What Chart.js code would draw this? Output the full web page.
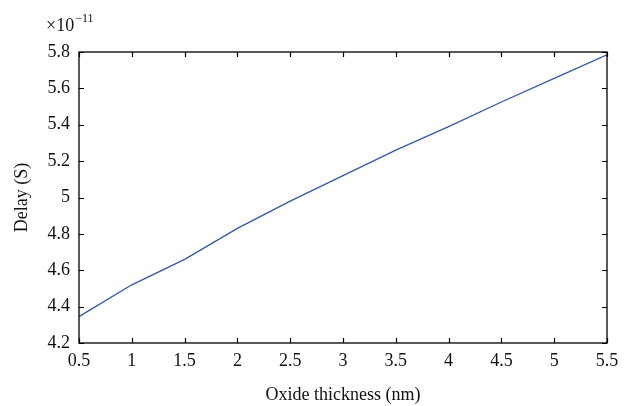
<!DOCTYPE html>
<html>
<head>
<meta charset="utf-8">
<script src="https://cdn.jsdelivr.net/npm/chart.js@4.4.1/dist/chart.umd.min.js"></script>
<style>
  html, body { margin: 0; padding: 0; background: #fff; }
  #wrap { width: 634px; height: 406px; }
</style>
</head>
<body>
<div id="wrap"><canvas id="chart" width="634" height="406"></canvas></div>
<script>
// oxide thickness (nm) and delay (x1e-11 s)
const thickness = [0.5, 1, 1.5, 2, 2.5, 3, 3.5, 4, 4.5, 5, 5.5];
const delay = [4.345, 4.52, 4.66, 4.83, 4.98, 5.12, 5.26, 5.39, 5.525, 5.655, 5.785];

const xTitle = 'Oxide thickness (nm)';
const yTitle = 'Delay (S)';

const FONT = '"Liberation Serif", "DejaVu Serif", serif';

const fmt = v => String(Number(v.toFixed(1)));

// box around plot + inward ticks like matlab
const boxPlugin = {
  id: 'box',
  afterDraw(chart) {
    const { ctx, chartArea: a, scales } = chart;
    ctx.save();
    ctx.strokeStyle = '#000';
    ctx.lineWidth = 1.3;
    ctx.strokeRect(a.left, a.top, a.right - a.left, a.bottom - a.top);

    ctx.lineWidth = 1.2;
    ctx.beginPath();
    for (const t of scales.x.ticks) {
      const px = Math.round(scales.x.getPixelForValue(t.value)) + 0.5;
      ctx.moveTo(px, a.bottom); ctx.lineTo(px, a.bottom - 5);
      ctx.moveTo(px, a.top); ctx.lineTo(px, a.top + 5);
    }
    for (const t of scales.y.ticks) {
      const py = Math.round(scales.y.getPixelForValue(t.value)) + 0.5;
      ctx.moveTo(a.left, py); ctx.lineTo(a.left + 5, py);
      ctx.moveTo(a.right, py); ctx.lineTo(a.right - 5, py);
    }
    ctx.stroke();

    // exponent label
    ctx.fillStyle = '#111';
    ctx.textBaseline = 'alphabetic';
    ctx.font = '18px ' + FONT;
    ctx.fillText('\u00d710', 46, 31);
    const w = ctx.measureText('\u00d710').width;
    ctx.font = '12px ' + FONT;
    ctx.fillText('\u221211', 46 + w + 1, 22);
    ctx.restore();
  }
};

const chartContext = document.getElementById('chart').getContext('2d');

const plot = new Chart(chartContext, {
  type: 'line',
  data: {
    datasets: [{
      data: thickness.map((x, i) => ({ x, y: delay[i] })),
      borderColor: '#3456b0',
      borderWidth: 1.3,
      pointRadius: 0,
      tension: 0,
      fill: false
    }]
  },
  options: {
    responsive: false,
    animation: false,
    layout: { padding: { top: 52, right: 27, left: 0, bottom: 0 } },
    plugins: { legend: { display: false }, tooltip: { enabled: false } },
    scales: {
      x: {
        type: 'linear',
        min: 0.5,
        max: 5.5,
        grid: { display: false, drawTicks: false },
        border: { display: false },
        ticks: {
          stepSize: 0.5,
          padding: 7,
          color: '#111',
          font: { family: FONT, size: 18 },
          callback: v => fmt(v)
        },
        title: {
          display: true,
          text: xTitle,
          color: '#111',
          font: { family: FONT, size: 18 },
          padding: { top: 4, bottom: 0 }
        },
        afterFit: s => { s.height = 63; }
      },
      y: {
        min: 4.2,
        max: 5.8,
        grid: { display: false, drawTicks: false },
        border: { display: false },
        ticks: {
          stepSize: 0.2,
          padding: 9,
          color: '#111',
          font: { family: FONT, size: 18 },
          callback: v => fmt(v)
        },
        title: {
          display: true,
          text: yTitle,
          color: '#111',
          font: { family: FONT, size: 18 },
          padding: { top: 11, bottom: 4 }
        },
        afterFit: s => { s.width = 79; }
      }
    }
  },
  plugins: [boxPlugin]
});
</script>
</body>
</html>
